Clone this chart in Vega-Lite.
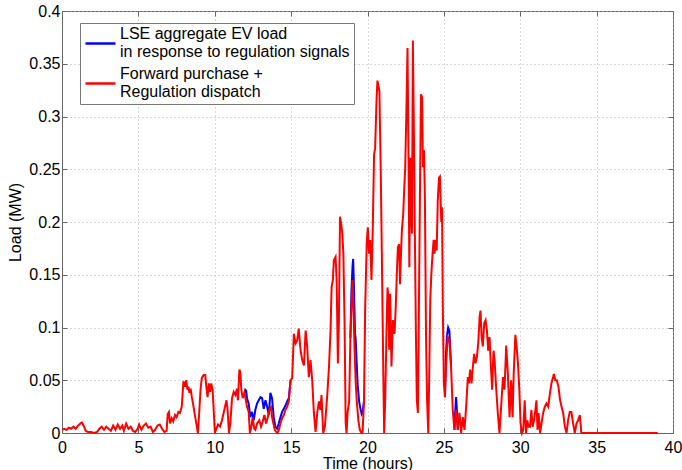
{
  "$schema": "https://vega.github.io/schema/vega-lite/v6.json",
  "width": 611,
  "height": 422,
  "autosize": {"type": "none"},
  "padding": {"left": 62, "top": 11, "right": 9, "bottom": 37},
  "background": "white",
  "config": {
    "font": "Liberation Sans",
    "view": {"stroke": "#666666", "strokeWidth": 1},
    "axis": {
      "labelFont": "Liberation Sans",
      "labelFontSize": 16,
      "labelColor": "#000000",
      "titleFont": "Liberation Sans",
      "titleFontSize": 16,
      "titleFontWeight": "normal",
      "titleColor": "#000000",
      "domainColor": "#666666",
      "tickColor": "#666666",
      "gridColor": "#b0b0b0",
      "gridDash": [1, 3],
      "gridWidth": 1
    },
    "style": {"guide-label": {"lineHeight": 18.5}}
  },
  "datasets": {
    "red": [
      {"t":0.0,"v":0.003},{"t":0.15,"v":0.004},{"t":0.3,"v":0.003},{"t":0.45,"v":0.005},{"t":0.6,"v":0.004},{"t":0.75,"v":0.006},{"t":0.9,"v":0.004},{"t":1.05,"v":0.007},{"t":1.2,"v":0.009},{"t":1.3,"v":0.010},{"t":1.45,"v":0.006},{"t":1.55,"v":0.002},{"t":1.7,"v":0.001},{"t":1.9,"v":0.001},{"t":2.1,"v":0.0},{"t":2.3,"v":0.001},{"t":2.45,"v":0.004},{"t":2.6,"v":0.006},{"t":2.75,"v":0.003},{"t":2.9,"v":0.006},{"t":3.05,"v":0.004},{"t":3.2,"v":0.002},{"t":3.35,"v":0.007},{"t":3.5,"v":0.003},{"t":3.65,"v":0.008},{"t":3.8,"v":0.004},{"t":3.95,"v":0.007},{"t":4.05,"v":0.002},{"t":4.2,"v":0.009},{"t":4.35,"v":0.004},{"t":4.5,"v":0.006},{"t":4.65,"v":0.002},{"t":4.8,"v":0.001},{"t":4.95,"v":0.004},{"t":5.05,"v":0.008},{"t":5.2,"v":0.003},{"t":5.35,"v":0.007},{"t":5.5,"v":0.009},{"t":5.65,"v":0.005},{"t":5.8,"v":0.006},{"t":5.95,"v":0.001},{"t":6.1,"v":0.003},{"t":6.25,"v":0.007},{"t":6.4,"v":0.008},{"t":6.55,"v":0.004},{"t":6.7,"v":0.001},{"t":6.85,"v":0.002},{"t":6.92,"v":0.018},{"t":7.0,"v":0.02},{"t":7.07,"v":0.009},{"t":7.18,"v":0.014},{"t":7.28,"v":0.011},{"t":7.4,"v":0.017},{"t":7.5,"v":0.015},{"t":7.62,"v":0.02},{"t":7.72,"v":0.019},{"t":7.84,"v":0.025},{"t":7.95,"v":0.049},{"t":8.06,"v":0.044},{"t":8.13,"v":0.05},{"t":8.21,"v":0.041},{"t":8.28,"v":0.044},{"t":8.34,"v":0.038},{"t":8.42,"v":0.042},{"t":8.5,"v":0.034},{"t":8.61,"v":0.025},{"t":8.72,"v":0.015},{"t":8.83,"v":0.006},{"t":8.9,"v":0.0},{"t":8.98,"v":0.019},{"t":9.07,"v":0.041},{"t":9.15,"v":0.052},{"t":9.27,"v":0.055},{"t":9.38,"v":0.055},{"t":9.44,"v":0.045},{"t":9.53,"v":0.034},{"t":9.61,"v":0.047},{"t":9.7,"v":0.039},{"t":9.77,"v":0.047},{"t":9.86,"v":0.041},{"t":9.94,"v":0.019},{"t":10.01,"v":0.0},{"t":10.1,"v":0.004},{"t":10.21,"v":0.008},{"t":10.35,"v":0.006},{"t":10.47,"v":0.012},{"t":10.58,"v":0.019},{"t":10.69,"v":0.026},{"t":10.77,"v":0.031},{"t":10.84,"v":0.022},{"t":10.93,"v":0.0},{"t":11.02,"v":0.009},{"t":11.13,"v":0.033},{"t":11.24,"v":0.039},{"t":11.35,"v":0.036},{"t":11.45,"v":0.042},{"t":11.52,"v":0.031},{"t":11.61,"v":0.06},{"t":11.67,"v":0.058},{"t":11.74,"v":0.041},{"t":11.83,"v":0.033},{"t":11.94,"v":0.038},{"t":12.0,"v":0.034},{"t":12.11,"v":0.025},{"t":12.22,"v":0.02},{"t":12.3,"v":0.0},{"t":12.4,"v":0.006},{"t":12.48,"v":0.015},{"t":12.59,"v":0.004},{"t":12.66,"v":0.003},{"t":12.77,"v":0.009},{"t":12.92,"v":0.012},{"t":13.03,"v":0.006},{"t":13.14,"v":0.011},{"t":13.25,"v":0.017},{"t":13.36,"v":0.009},{"t":13.47,"v":0.015},{"t":13.58,"v":0.022},{"t":13.67,"v":0.026},{"t":13.75,"v":0.015},{"t":13.84,"v":0.009},{"t":13.93,"v":0.003},{"t":14.02,"v":0.001},{"t":14.1,"v":0.0},{"t":14.2,"v":0.003},{"t":14.3,"v":0.009},{"t":14.41,"v":0.014},{"t":14.52,"v":0.017},{"t":14.63,"v":0.022},{"t":14.74,"v":0.025},{"t":14.85,"v":0.03},{"t":14.96,"v":0.05},{"t":15.07,"v":0.052},{"t":15.18,"v":0.094},{"t":15.29,"v":0.085},{"t":15.4,"v":0.088},{"t":15.5,"v":0.099},{"t":15.62,"v":0.078},{"t":15.73,"v":0.069},{"t":15.84,"v":0.064},{"t":15.95,"v":0.097},{"t":16.05,"v":0.082},{"t":16.16,"v":0.053},{"t":16.27,"v":0.069},{"t":16.38,"v":0.05},{"t":16.49,"v":0.019},{"t":16.6,"v":0.001},{"t":16.71,"v":0.019},{"t":16.82,"v":0.03},{"t":16.91,"v":0.022},{"t":16.99,"v":0.036},{"t":17.1,"v":0.0},{"t":17.21,"v":0.006},{"t":17.37,"v":0.037},{"t":17.48,"v":0.063},{"t":17.58,"v":0.097},{"t":17.65,"v":0.138},{"t":17.73,"v":0.145},{"t":17.8,"v":0.164},{"t":17.91,"v":0.167},{"t":17.98,"v":0.145},{"t":18.06,"v":0.066},{"t":18.13,"v":0.107},{"t":18.2,"v":0.205},{"t":18.28,"v":0.198},{"t":18.35,"v":0.189},{"t":18.42,"v":0.17},{"t":18.5,"v":0.104},{"t":18.57,"v":0.01},{"t":18.63,"v":0.0},{"t":18.7,"v":0.02},{"t":18.8,"v":0.03},{"t":18.88,"v":0.09},{"t":18.95,"v":0.12},{"t":19.02,"v":0.145},{"t":19.08,"v":0.12},{"t":19.15,"v":0.08},{"t":19.23,"v":0.047},{"t":19.3,"v":0.03},{"t":19.4,"v":0.012},{"t":19.5,"v":0.003},{"t":19.6,"v":0.0},{"t":19.68,"v":0.001},{"t":19.77,"v":0.03},{"t":19.85,"v":0.12},{"t":19.95,"v":0.18},{"t":20.02,"v":0.195},{"t":20.1,"v":0.17},{"t":20.18,"v":0.183},{"t":20.26,"v":0.145},{"t":20.34,"v":0.19},{"t":20.43,"v":0.264},{"t":20.5,"v":0.27},{"t":20.59,"v":0.315},{"t":20.65,"v":0.334},{"t":20.72,"v":0.329},{"t":20.78,"v":0.324},{"t":20.87,"v":0.246},{"t":20.95,"v":0.157},{"t":21.03,"v":0.063},{"t":21.09,"v":0.0},{"t":21.16,"v":0.031},{"t":21.24,"v":0.094},{"t":21.31,"v":0.138},{"t":21.37,"v":0.126},{"t":21.42,"v":0.079},{"t":21.48,"v":0.132},{"t":21.57,"v":0.063},{"t":21.66,"v":0.107},{"t":21.77,"v":0.094},{"t":21.85,"v":0.12},{"t":21.92,"v":0.151},{"t":21.99,"v":0.176},{"t":22.07,"v":0.179},{"t":22.13,"v":0.141},{"t":22.18,"v":0.164},{"t":22.25,"v":0.192},{"t":22.34,"v":0.208},{"t":22.4,"v":0.23},{"t":22.47,"v":0.252},{"t":22.56,"v":0.315},{"t":22.62,"v":0.365},{"t":22.69,"v":0.252},{"t":22.74,"v":0.157},{"t":22.8,"v":0.261},{"t":22.85,"v":0.22},{"t":22.91,"v":0.189},{"t":22.97,"v":0.372},{"t":23.04,"v":0.283},{"t":23.1,"v":0.189},{"t":23.17,"v":0.094},{"t":23.23,"v":0.031},{"t":23.3,"v":0.019},{"t":23.37,"v":0.126},{"t":23.43,"v":0.22},{"t":23.5,"v":0.321},{"t":23.57,"v":0.318},{"t":23.63,"v":0.252},{"t":23.7,"v":0.268},{"t":23.76,"v":0.22},{"t":23.83,"v":0.094},{"t":23.9,"v":0.031},{"t":23.98,"v":0.0},{"t":24.05,"v":0.063},{"t":24.11,"v":0.126},{"t":24.18,"v":0.151},{"t":24.26,"v":0.17},{"t":24.33,"v":0.183},{"t":24.39,"v":0.17},{"t":24.46,"v":0.183},{"t":24.53,"v":0.173},{"t":24.6,"v":0.22},{"t":24.68,"v":0.242},{"t":24.74,"v":0.243},{"t":24.8,"v":0.214},{"t":24.83,"v":0.2},{"t":24.88,"v":0.214},{"t":24.93,"v":0.12},{"t":25.0,"v":0.047},{"t":25.07,"v":0.034},{"t":25.14,"v":0.063},{"t":25.25,"v":0.091},{"t":25.36,"v":0.088},{"t":25.47,"v":0.063},{"t":25.58,"v":0.022},{"t":25.69,"v":0.003},{"t":25.8,"v":0.022},{"t":25.91,"v":0.003},{"t":26.02,"v":0.019},{"t":26.13,"v":0.0},{"t":26.24,"v":0.015},{"t":26.35,"v":0.003},{"t":26.46,"v":0.025},{"t":26.57,"v":0.053},{"t":26.64,"v":0.047},{"t":26.72,"v":0.06},{"t":26.81,"v":0.047},{"t":26.9,"v":0.063},{"t":26.98,"v":0.075},{"t":27.07,"v":0.066},{"t":27.16,"v":0.072},{"t":27.25,"v":0.085},{"t":27.34,"v":0.11},{"t":27.4,"v":0.116},{"t":27.47,"v":0.091},{"t":27.55,"v":0.082},{"t":27.64,"v":0.104},{"t":27.73,"v":0.107},{"t":27.82,"v":0.097},{"t":27.9,"v":0.078},{"t":27.99,"v":0.091},{"t":28.08,"v":0.063},{"t":28.16,"v":0.041},{"t":28.25,"v":0.078},{"t":28.32,"v":0.069},{"t":28.43,"v":0.041},{"t":28.53,"v":0.019},{"t":28.64,"v":0.0},{"t":28.75,"v":0.025},{"t":28.87,"v":0.053},{"t":28.97,"v":0.041},{"t":29.08,"v":0.083},{"t":29.19,"v":0.056},{"t":29.3,"v":0.015},{"t":29.4,"v":0.05},{"t":29.5,"v":0.015},{"t":29.57,"v":0.056},{"t":29.68,"v":0.093},{"t":29.76,"v":0.082},{"t":29.85,"v":0.066},{"t":29.94,"v":0.041},{"t":30.02,"v":0.009},{"t":30.11,"v":0.0},{"t":30.2,"v":0.003},{"t":30.29,"v":0.031},{"t":30.38,"v":0.0},{"t":30.46,"v":0.012},{"t":30.55,"v":0.006},{"t":30.64,"v":0.006},{"t":30.73,"v":0.022},{"t":30.81,"v":0.006},{"t":30.9,"v":0.012},{"t":30.99,"v":0.022},{"t":31.06,"v":0.031},{"t":31.13,"v":0.003},{"t":31.2,"v":0.019},{"t":31.3,"v":0.0},{"t":31.39,"v":0.009},{"t":31.5,"v":0.019},{"t":31.61,"v":0.025},{"t":31.72,"v":0.028},{"t":31.83,"v":0.025},{"t":31.94,"v":0.037},{"t":32.04,"v":0.047},{"t":32.15,"v":0.053},{"t":32.2,"v":0.056},{"t":32.3,"v":0.05},{"t":32.39,"v":0.05},{"t":32.5,"v":0.044},{"t":32.61,"v":0.031},{"t":32.7,"v":0.025},{"t":32.81,"v":0.019},{"t":32.92,"v":0.006},{"t":33.03,"v":0.0},{"t":33.13,"v":0.012},{"t":33.24,"v":0.02},{"t":33.35,"v":0.02},{"t":33.46,"v":0.009},{"t":33.57,"v":0.0},{"t":33.68,"v":0.009},{"t":33.79,"v":0.012},{"t":33.9,"v":0.017},{"t":34.0,"v":0.0},{"t":39.0,"v":0.0}
    ],
    "blue": [
      {"seg":1,"t":11.94,"v":0.038},{"seg":1,"t":12.0,"v":0.041},{"seg":1,"t":12.06,"v":0.04},{"seg":1,"t":12.11,"v":0.033},{"seg":1,"t":12.22,"v":0.028},{"seg":1,"t":12.33,"v":0.015},{"seg":1,"t":12.44,"v":0.02},{"seg":1,"t":12.55,"v":0.012},{"seg":1,"t":12.66,"v":0.022},{"seg":1,"t":12.77,"v":0.028},{"seg":1,"t":12.88,"v":0.031},{"seg":1,"t":12.99,"v":0.034},{"seg":1,"t":13.1,"v":0.033},{"seg":1,"t":13.21,"v":0.023},{"seg":1,"t":13.32,"v":0.031},{"seg":1,"t":13.43,"v":0.025},{"seg":1,"t":13.54,"v":0.017},{"seg":1,"t":13.64,"v":0.038},{"seg":1,"t":13.75,"v":0.033},{"seg":1,"t":13.86,"v":0.015},{"seg":1,"t":13.97,"v":0.006},{"seg":1,"t":14.08,"v":0.004},{"seg":1,"t":14.19,"v":0.009},{"seg":1,"t":14.3,"v":0.015},{"seg":1,"t":14.41,"v":0.02},{"seg":1,"t":14.52,"v":0.023},{"seg":1,"t":14.63,"v":0.026},{"seg":1,"t":14.74,"v":0.03},{"seg":1,"t":14.85,"v":0.033},{"seg":1,"t":14.96,"v":0.05},
      {"seg":2,"t":18.88,"v":0.09},{"seg":2,"t":18.95,"v":0.135},{"seg":2,"t":19.02,"v":0.158},{"seg":2,"t":19.06,"v":0.165},{"seg":2,"t":19.12,"v":0.135},{"seg":2,"t":19.18,"v":0.095},{"seg":2,"t":19.23,"v":0.088},{"seg":2,"t":19.28,"v":0.07},{"seg":2,"t":19.35,"v":0.047},{"seg":2,"t":19.45,"v":0.03},{"seg":2,"t":19.55,"v":0.022},{"seg":2,"t":19.62,"v":0.018},{"seg":2,"t":19.68,"v":0.02},{"seg":2,"t":19.77,"v":0.03},
      {"seg":3,"t":25.07,"v":0.034},{"seg":3,"t":25.14,"v":0.075},{"seg":3,"t":25.2,"v":0.092},{"seg":3,"t":25.28,"v":0.1},{"seg":3,"t":25.36,"v":0.097},{"seg":3,"t":25.47,"v":0.063},
      {"seg":4,"t":25.69,"v":0.003},{"seg":4,"t":25.76,"v":0.025},{"seg":4,"t":25.8,"v":0.034},{"seg":4,"t":25.86,"v":0.02},{"seg":4,"t":25.91,"v":0.003}
    ]
  },
  "layer": [
    {
      "data": {"name": "blue"},
      "transform": [{"calculate": "'LSE'", "as": "series"}],
      "mark": {"type": "line", "strokeWidth": 2, "interpolate": "linear"},
      "encoding": {
        "x": {
          "field": "t", "type": "quantitative",
          "scale": {"domain": [0, 40], "nice": false, "zero": false},
          "axis": {
            "title": "Time (hours)",
            "values": [0, 5, 10, 15, 20, 25, 30, 35, 40],
            "grid": true,
            "tickSize": -5,
            "labelPadding": 11,
            "titlePadding": 0,
            "labelFlush": false,
            "labelOverlap": false
          }
        },
        "y": {
          "field": "v", "type": "quantitative",
          "scale": {"domain": [0, 0.4], "nice": false},
          "axis": {
            "title": "Load (MW)",
            "values": [0, 0.05, 0.1, 0.15, 0.2, 0.25, 0.3, 0.35, 0.4],
            "labelExpr": "'' + round(datum.value * 100) / 100",
            "grid": true,
            "tickSize": -5,
            "labelPadding": 7,
            "titlePadding": 5,
            "labelFlush": false,
            "labelOverlap": false
          }
        },
        "detail": {"field": "seg", "type": "nominal"},
        "color": {
          "field": "series", "type": "nominal",
          "scale": {"domain": ["LSE", "FWD"], "range": ["#0000ff", "#ff0000"]},
          "legend": {
            "title": null,
            "orient": "none",
            "legendX": 18,
            "legendY": 12,
            "direction": "vertical",
            "strokeColor": "#777777",
            "fillColor": "#ffffff",
            "padding": 4,
            "symbolType": "stroke",
            "symbolSize": 900,
            "symbolStrokeWidth": 2.5,
            "labelFont": "Liberation Sans",
            "labelFontSize": 16,
            "labelColor": "#000000",
            "labelBaseline": "line-bottom",
            "labelOffset": 3,
            "labelLimit": 400,
            "rowPadding": 5,
            "labelExpr": "datum.label == 'LSE' ? ['LSE aggregate EV load', 'in response to regulation signals'] : ['Forward purchase +', 'Regulation dispatch']"
          }
        }
      }
    },
    {
      "data": {"name": "red"},
      "transform": [{"calculate": "'FWD'", "as": "series"}],
      "mark": {"type": "line", "strokeWidth": 2, "interpolate": "linear"},
      "encoding": {
        "x": {
          "field": "t", "type": "quantitative",
          "axis": {"orient": "top", "values": [0, 5, 10, 15, 20, 25, 30, 35, 40], "labels": false, "title": null, "grid": false, "domain": false, "tickSize": -5}
        },
        "y": {
          "field": "v", "type": "quantitative",
          "axis": {"orient": "right", "values": [0, 0.05, 0.1, 0.15, 0.2, 0.25, 0.3, 0.35, 0.4], "labels": false, "title": null, "grid": false, "domain": false, "tickSize": -5}
        },
        "color": {"field": "series", "type": "nominal"}
      }
    }
  ],
  "resolve": {"axis": {"x": "independent", "y": "independent"}}
}
